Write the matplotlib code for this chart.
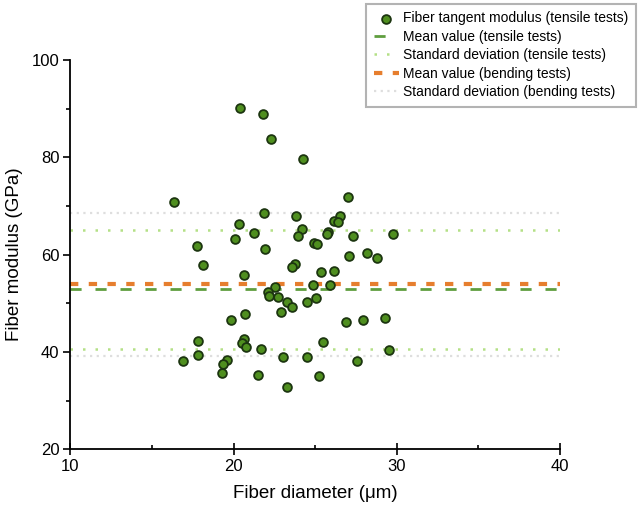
import numpy as np
import matplotlib.pyplot as plt
from matplotlib.ticker import MultipleLocator

plt.rcParams['font.family'] = ['Liberation Sans', 'DejaVu Sans']

# fiber diameter (um) and tangent modulus (GPa)
diameter = [20.38, 21.81, 22.29, 24.23, 16.34, 27.04, 21.87, 23.82, 26.53, 26.18,
            26.42, 20.34, 21.24, 24.19, 23.92, 25.77, 25.73, 27.34, 29.77, 20.11,
            24.92, 25.11, 17.74, 21.94, 27.06, 28.19, 28.76, 18.14, 23.78, 23.58,
            20.66, 25.36, 26.18, 22.55, 24.86, 25.93, 22.08, 22.18, 22.75, 23.26,
            23.58, 22.89, 24.51, 25.02, 20.71, 19.86, 26.88, 27.94, 29.27, 17.80,
            17.79, 16.87, 20.63, 20.52, 20.75, 21.66, 25.48, 29.51, 19.60, 19.35,
            19.27, 23.02, 24.47, 27.54, 21.49, 25.24, 23.30]
modulus = [90.2, 88.85, 83.77, 79.6, 70.76, 71.79, 68.5, 68.0, 67.94, 66.92,
           66.81, 66.24, 64.51, 65.21, 63.83, 64.72, 64.25, 63.83, 64.25, 63.16,
           62.5, 62.19, 61.84, 61.22, 59.66, 60.34, 59.25, 57.83, 58.18, 57.53,
           55.92, 56.44, 56.74, 53.42, 53.76, 53.87, 52.43, 51.57, 51.2, 50.37,
           49.3, 48.17, 50.33, 51.09, 47.8, 46.57, 46.22, 46.57, 46.94, 42.32,
           39.32, 38.19, 42.63, 41.85, 41.02, 40.67, 42.15, 40.37, 38.35, 37.49,
           35.62, 39.03, 39.03, 38.15, 35.21, 34.96, 32.76]

mean_tensile = 52.9
std_tensile = [65.1, 40.7]
mean_bending = 53.9
std_bending = [68.6, 39.1]

x_range = [10, 40]

fig = plt.figure(figsize=(6.4, 5.14), dpi=100)
ax = fig.add_axes([0.11, 0.126, 0.765, 0.757])

ax.scatter(diameter, modulus, s=40, color='#4f8f1f', edgecolors='#1c3510',
           linewidths=1.3, zorder=3, label='Fiber tangent modulus (tensile tests)')
ax.plot(x_range, [mean_tensile] * 2, color='#5f9e3f', lw=2, ls=(0, (4, 5)),
        label='Mean value (tensile tests)')
ax.plot(x_range, [std_tensile[0]] * 2, color='#b4e086', lw=1.8, ls=(0, (1, 4)),
        label='Standard deviation (tensile tests)')
ax.plot(x_range, [std_tensile[1]] * 2, color='#b4e086', lw=1.8, ls=(0, (1, 4)))
ax.plot(x_range, [mean_bending] * 2, color='#e67e2e', lw=3, ls=(0, (2, 2.5)),
        label='Mean value (bending tests)')
ax.plot(x_range, [std_bending[0]] * 2, color='#dedede', lw=1.6, ls=(0, (1, 2)),
        label='Standard deviation (bending tests)')
ax.plot(x_range, [std_bending[1]] * 2, color='#dedede', lw=1.6, ls=(0, (1, 2)))

ax.set_xlim(10, 40)
ax.set_ylim(20, 100)
ax.xaxis.set_major_locator(MultipleLocator(10))
ax.xaxis.set_minor_locator(MultipleLocator(5))
ax.yaxis.set_major_locator(MultipleLocator(20))
ax.yaxis.set_minor_locator(MultipleLocator(10))
ax.tick_params(which='major', length=5, width=1.2, labelsize=12, pad=3)
ax.tick_params(axis='x', which='major', direction='inout', length=8)
ax.tick_params(axis='x', which='minor', direction='in', length=3, width=1.2)
ax.tick_params(axis='y', which='minor', direction='out', length=3, width=1.2)
for s in ['top', 'right']:
    ax.spines[s].set_visible(False)
for s in ['left', 'bottom']:
    ax.spines[s].set_linewidth(1.3)

ax.set_xlabel('Fiber diameter (μm)', fontsize=13.5, labelpad=8)
ax.set_ylabel('Fiber modulus (GPa)', fontsize=13.5, labelpad=6)

leg = ax.legend(loc='upper right', bbox_to_anchor=(0.998, 0.998),
                bbox_transform=fig.transFigure, fontsize=10, frameon=True,
                fancybox=False, edgecolor='#a0a0a0', handlelength=1.8,
                handletextpad=0.3, labelspacing=0.32, borderpad=0.55,
                borderaxespad=0.2)
leg.get_frame().set_linewidth(1.5)

fig.savefig('out.png', dpi=100)
